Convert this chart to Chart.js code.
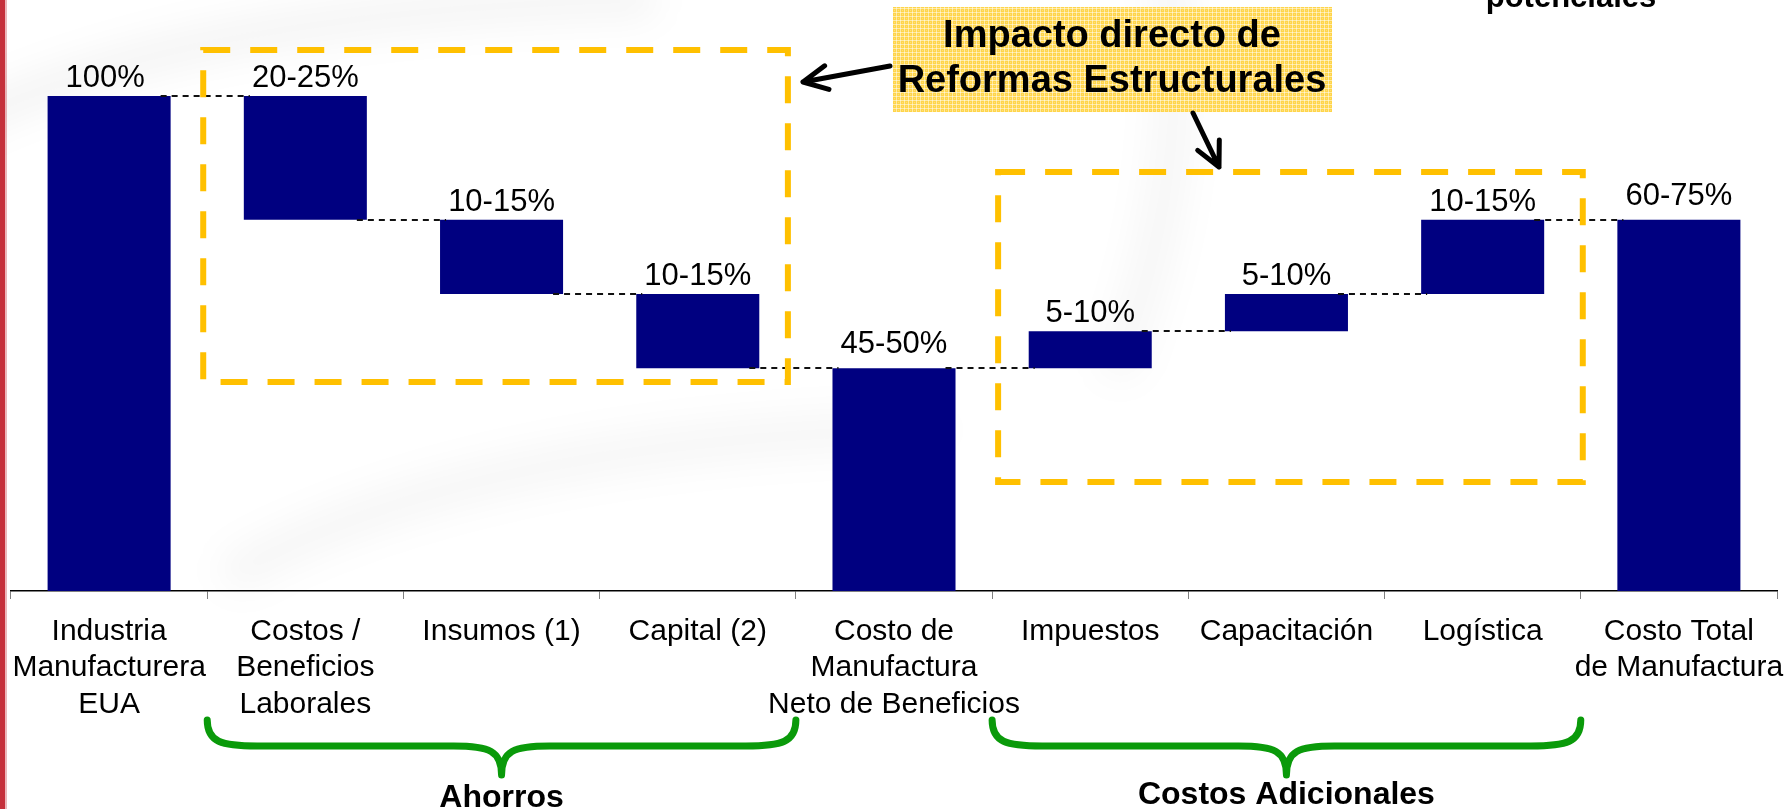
<!DOCTYPE html>
<html lang="es">
<head>
    <meta charset="UTF-8" />
    <title>Costo de Manufactura</title>
    <script src="https://cdn.jsdelivr.net/npm/chart.js"></script>
    <style>
        html, body {
            margin: 0;
            padding: 0;
            background: #ffffff;
        }

        .chart-container {
            width: 1792px;
            height: 809px;
            position: relative;
        }
    </style>
</head>
<body>
    <div class="chart-container">
        <canvas id="waterfallChart" width="1792" height="809"></canvas>
    </div>

    <script>
        const categories = [
            ['Industria', 'Manufacturera', 'EUA'],
            ['Costos /', 'Beneficios', 'Laborales'],
            'Insumos (1)',
            'Capital (2)',
            ['Costo de', 'Manufactura', 'Neto de Beneficios'],
            'Impuestos',
            'Capacitación',
            'Logística',
            ['Costo Total', 'de Manufactura']
        ];
        const barStarts = [0, 75, 60, 45, 0, 45, 52.5, 60, 0];
        const barEnds = [100, 100, 75, 60, 45, 52.5, 60, 75, 75];
        const stepKinds = ['total', 'down', 'down', 'down', 'total', 'up', 'up', 'up', 'total'];
        const valueLabels = ['100%', '20-25%', '10-15%', '10-15%', '45-50%', '5-10%', '5-10%', '10-15%', '60-75%'];

        const FONT = 'Arial, "Liberation Sans", sans-serif';
        const NAVY = '#000080';
        const ORANGE = '#ffc000';
        const GREEN = '#0a9a0a';

        // small checkered fill used by the callout box
        function calloutPattern(ctx) {
            const c = document.createElement('canvas');
            c.width = 4;
            c.height = 4;
            const p = c.getContext('2d');
            p.fillStyle = '#ffd54a';
            p.fillRect(0, 0, 4, 4);
            p.fillStyle = 'rgba(255,255,255,0.5)';
            p.fillRect(0, 0, 4, 1);
            p.fillRect(0, 0, 1, 4);
            p.fillStyle = 'rgba(255,255,255,0.25)';
            p.fillRect(2, 2, 1, 1);
            return ctx.createPattern(c, 'repeat');
        }

        function drawArrow(ctx, x1, y1, x2, y2) {
            const ang = Math.atan2(y1 - y2, x1 - x2);
            const head = 27;
            const spread = 0.46;
            ctx.beginPath();
            ctx.moveTo(x1, y1);
            ctx.lineTo(x2, y2);
            ctx.moveTo(x2 + head * Math.cos(ang - spread), y2 + head * Math.sin(ang - spread));
            ctx.lineTo(x2, y2);
            ctx.lineTo(x2 + head * Math.cos(ang + spread), y2 + head * Math.sin(ang + spread));
            ctx.stroke();
        }

        function drawBrace(ctx, x1, x2, yTop, yMid, yTip) {
            const xm = (x1 + x2) / 2;
            ctx.beginPath();
            ctx.moveTo(x1, yTop);
            ctx.bezierCurveTo(x1, yTop + 22, x1 + 14, yMid, x1 + 50, yMid);
            ctx.lineTo(xm - 48, yMid);
            ctx.bezierCurveTo(xm - 12, yMid, xm, yMid + 5, xm, yTip);
            ctx.bezierCurveTo(xm, yMid + 5, xm + 12, yMid, xm + 48, yMid);
            ctx.lineTo(x2 - 50, yMid);
            ctx.bezierCurveTo(x2 - 14, yMid, x2, yTop + 22, x2, yTop);
            ctx.stroke();
        }

        const decorations = {
            id: 'decorations',
            beforeDraw(chart) {
                const ctx = chart.ctx;
                ctx.save();
                ctx.fillStyle = '#ffffff';
                ctx.fillRect(0, 0, chart.width, chart.height);

                // faint grey swooshes of the slide background
                ctx.filter = 'blur(18px)';
                ctx.lineCap = 'round';
                ctx.strokeStyle = 'rgba(0,0,0,0.045)';
                ctx.lineWidth = 36;
                ctx.beginPath();
                ctx.moveTo(-30, 120);
                ctx.quadraticCurveTo(200, 10, 640, 0);
                ctx.stroke();
                ctx.strokeStyle = 'rgba(0,0,0,0.035)';
                ctx.lineWidth = 40;
                ctx.beginPath();
                ctx.moveTo(240, 570);
                ctx.quadraticCurveTo(480, 440, 920, 430);
                ctx.stroke();
                ctx.beginPath();
                ctx.moveTo(1170, -20);
                ctx.quadraticCurveTo(1190, 180, 1120, 360);
                ctx.stroke();
                ctx.filter = 'none';

                // red strip on the left edge
                ctx.fillStyle = '#c5303b';
                ctx.fillRect(0, 0, 5, chart.height);
                ctx.fillStyle = 'rgba(197,48,59,0.35)';
                ctx.fillRect(5, 0, 2, chart.height);
                ctx.restore();
            },
            afterDatasetsDraw(chart) {
                const ctx = chart.ctx;
                const bars = chart.getDatasetMeta(0).data;
                const y = chart.scales.y;

                ctx.save();
                // connector lines between steps
                ctx.strokeStyle = '#111';
                ctx.lineWidth = 2;
                ctx.setLineDash([6, 5]);
                for (let i = 0; i < bars.length - 1; i++) {
                    const level = stepKinds[i] === 'down' ? barStarts[i] : barEnds[i];
                    const py = Math.round(y.getPixelForValue(level));
                    const a = bars[i], b = bars[i + 1];
                    ctx.beginPath();
                    ctx.moveTo(a.x + a.width / 2 - 10, py);
                    ctx.lineTo(b.x - b.width / 2 + 6, py);
                    ctx.stroke();
                }
                ctx.setLineDash([]);

                // value labels above bars
                ctx.fillStyle = '#000';
                ctx.font = '31px ' + FONT;
                ctx.textAlign = 'center';
                ctx.textBaseline = 'alphabetic';
                bars.forEach((bar, i) => {
                    const top = Math.min(bar.y, bar.base);
                    const gap = (stepKinds[i] === 'total' && i > 0) ? 15 : 9;
                    ctx.fillText(valueLabels[i], bar.x - (i === 0 ? 4 : 0), top - gap);
                });
                ctx.restore();
            },
            afterDraw(chart) {
                const ctx = chart.ctx;
                const x = chart.scales.x;
                const edge = (i) => (x.getPixelForValue(i - 1) + x.getPixelForValue(i)) / 2;

                ctx.save();
                // orange dashed boxes
                ctx.strokeStyle = ORANGE;
                ctx.lineWidth = 6;
                ctx.setLineDash([27, 20]);
                ctx.strokeRect(edge(1) - 4, 50, edge(4) - 8 - (edge(1) - 4), 332);
                ctx.strokeRect(edge(5) + 6, 172, edge(8) + 2 - (edge(5) + 6), 310);
                ctx.setLineDash([]);

                // callout
                ctx.fillStyle = calloutPattern(ctx);
                ctx.fillRect(893, 7, 439, 105);
                ctx.fillStyle = '#000';
                ctx.font = 'bold 38px ' + FONT;
                ctx.textAlign = 'center';
                ctx.textBaseline = 'alphabetic';
                ctx.fillText('Impacto directo de', 1112, 47);
                ctx.fillText('Reformas Estructurales', 1112, 92);

                // partially visible heading at top right
                ctx.font = 'bold 31px ' + FONT;
                ctx.fillText('potenciales', 1571, 7);

                // arrows
                ctx.strokeStyle = '#000';
                ctx.lineWidth = 5;
                ctx.lineCap = 'round';
                ctx.lineJoin = 'round';
                drawArrow(ctx, 890, 66, 803, 82);
                drawArrow(ctx, 1193, 113, 1219, 167);

                // green braces and their captions
                ctx.strokeStyle = GREEN;
                ctx.lineWidth = 7;
                drawBrace(ctx, edge(1), edge(4), 720, 746, 775);
                drawBrace(ctx, edge(5), edge(8), 720, 746, 775);
                ctx.fillStyle = '#000';
                ctx.font = 'bold 32px ' + FONT;
                ctx.fillText('Ahorros', (edge(1) + edge(4)) / 2, 807);
                ctx.fillText('Costos Adicionales', (edge(5) + edge(8)) / 2, 804);
                ctx.restore();
            }
        };

        const ctx = document.getElementById('waterfallChart').getContext('2d');

        const waterfallChart = new Chart(ctx, {
            type: 'bar',
            data: {
                labels: categories,
                datasets: [{
                    data: barStarts.map((s, i) => [s, barEnds[i]]),
                    backgroundColor: NAVY,
                    borderWidth: 0,
                    borderSkipped: false,
                    categoryPercentage: 1,
                    barPercentage: 0.627
                }]
            },
            options: {
                responsive: false,
                animation: false,
                layout: {
                    padding: { top: 96, left: 11, right: 15, bottom: 0 }
                },
                scales: {
                    x: {
                        grid: {
                            offset: true,
                            drawOnChartArea: false,
                            drawTicks: true,
                            tickLength: 8,
                            color: '#808080',
                            lineWidth: 1
                        },
                        border: { color: '#000', width: 1.5 },
                        ticks: {
                            color: '#000',
                            padding: 14,
                            maxRotation: 0,
                            autoSkip: false,
                            font: { family: FONT, size: 30, lineHeight: 1.217 }
                        },
                        afterFit: (scale) => {
                            scale.height = 218;
                            // labels may overhang the edges, keep the axis at full width
                            scale.paddingLeft = 0;
                            scale.paddingRight = 0;
                        }
                    },
                    y: {
                        display: false,
                        min: 0,
                        max: 100
                    }
                },
                plugins: {
                    legend: { display: false },
                    tooltip: { enabled: false }
                }
            },
            plugins: [decorations]
        });
    </script>
</body>
</html>
